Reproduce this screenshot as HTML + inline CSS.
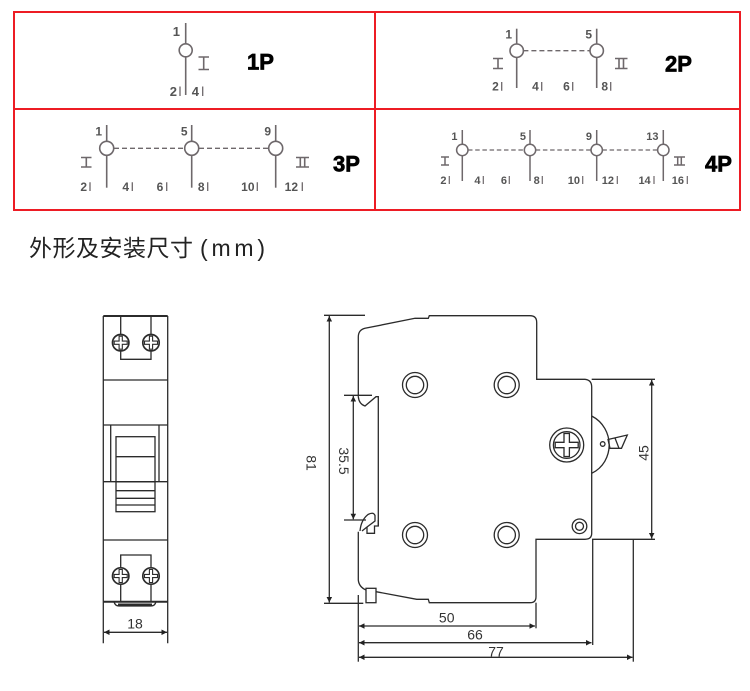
<!DOCTYPE html>
<html><head><meta charset="utf-8"><style>
html,body{margin:0;padding:0;background:#fff;}
svg{display:block;}
.lb{font-family:"Liberation Sans",sans-serif;font-weight:bold;fill:#555;}
.big{font-family:"Liberation Sans",sans-serif;font-weight:bold;fill:#000;font-size:22px;stroke:#000;stroke-width:0.7;}
.dm{font-family:"Liberation Sans",sans-serif;fill:#333;font-size:14px;}
</style></head><body>
<svg width="750" height="691" viewBox="0 0 750 691" xmlns="http://www.w3.org/2000/svg">
<defs>
<marker id="ar" viewBox="0 0 10 10" refX="10" refY="5" markerWidth="7" markerHeight="5.5" markerUnits="userSpaceOnUse" orient="auto-start-reverse"><path d="M0,0 L10,5 L0,10 z" fill="#222"/></marker>
</defs>
<!-- table -->
<g fill="none" stroke="#ed1c24" stroke-width="2">
<rect x="14" y="12" width="726" height="198"/>
<line x1="14" y1="109" x2="740" y2="109"/>
<line x1="375" y1="12" x2="375" y2="210"/>
</g>

<!-- 1P -->
<g stroke="#6e686b" stroke-width="1.6" fill="#fff">
<line x1="185.7" y1="23" x2="185.7" y2="43.8"/>
<line x1="185.7" y1="56.8" x2="185.7" y2="95"/>
<circle cx="185.7" cy="50.3" r="6.5"/>
<path d="M198.5,57 H209 M203.7,57 V69.5 M198.5,69.5 H209" fill="none"/>
<path d="M180,86.5 V96 M202.7,86.5 V96" stroke-width="1.3"/>
</g>
<g class="lb" font-size="13">
<text x="180" y="36" text-anchor="end">1</text>
<text x="177" y="96" text-anchor="end">2</text>
<text x="199" y="96" text-anchor="end">4</text>
</g>
<text class="big" x="247" y="69.7">1P</text>

<!-- 2P -->
<g stroke="#6e686b" stroke-width="1.6" fill="#fff">
<line x1="516.7" y1="28.7" x2="516.7" y2="88"/>
<line x1="596.7" y1="28.7" x2="596.7" y2="88"/>
<line x1="523.4" y1="50.7" x2="590" y2="50.7" stroke-dasharray="5 3" stroke-width="1.4"/>
<circle cx="516.7" cy="50.7" r="6.7"/>
<circle cx="596.7" cy="50.7" r="6.7"/>
<path d="M493,58.5 H503 M498,58.5 V68.5 M493,68.5 H503" fill="none"/>
<path d="M615,58.5 H627.5 M619,58.5 V68.5 M623.5,58.5 V68.5 M615,68.5 H627.5" fill="none"/>
<path d="M501.7,82 V90.7 M541.7,82 V90.7 M572.7,82 V90.7 M610.7,82 V90.7" stroke-width="1.3"/>
</g>
<g class="lb" font-size="12">
<text x="512" y="38.7" text-anchor="end">1</text>
<text x="592" y="38.7" text-anchor="end">5</text>
<text x="498.8" y="90.7" text-anchor="end">2</text>
<text x="538.8" y="90.7" text-anchor="end">4</text>
<text x="569.8" y="90.7" text-anchor="end">6</text>
<text x="608" y="90.7" text-anchor="end">8</text>
</g>
<text class="big" x="665" y="71.3">2P</text>

<!-- 3P -->
<g stroke="#6e686b" stroke-width="1.6" fill="#fff">
<line x1="106.7" y1="125" x2="106.7" y2="187.7"/>
<line x1="191.7" y1="125" x2="191.7" y2="187.7"/>
<line x1="275.7" y1="125" x2="275.7" y2="187.7"/>
<path d="M114,148.3 H184.4 M199,148.3 H268.4" stroke-dasharray="5 3" stroke-width="1.4" fill="none"/>
<circle cx="106.7" cy="148.3" r="7"/>
<circle cx="191.7" cy="148.3" r="7"/>
<circle cx="275.7" cy="148.3" r="7"/>
<path d="M81,157.5 H91.5 M86.3,157.5 V167 M81,167 H91.5" fill="none"/>
<path d="M296,157.5 H309 M300.3,157.5 V167 M304.7,157.5 V167 M296,167 H309" fill="none"/>
<path d="M90,182.3 V191 M132.3,182.3 V191 M166.7,182.3 V191 M207.7,182.3 V191 M257.3,182.3 V191 M302.3,182.3 V191" stroke-width="1.3"/>
</g>
<g class="lb" font-size="12">
<text x="102" y="135.7" text-anchor="end">1</text>
<text x="187.5" y="135.7" text-anchor="end">5</text>
<text x="271" y="135.7" text-anchor="end">9</text>
<text x="87" y="191" text-anchor="end">2</text>
<text x="129" y="191" text-anchor="end">4</text>
<text x="163.3" y="191" text-anchor="end">6</text>
<text x="204.5" y="191" text-anchor="end">8</text>
<text x="254.5" y="191" text-anchor="end">10</text>
<text x="298" y="191" text-anchor="end">12</text>
</g>
<text class="big" x="333" y="171.7">3P</text>

<!-- 4P -->
<g stroke="#6e686b" stroke-width="1.5" fill="#fff">
<line x1="462.3" y1="130" x2="462.3" y2="181"/>
<line x1="530" y1="130" x2="530" y2="181"/>
<line x1="596.7" y1="130" x2="596.7" y2="181"/>
<line x1="663.3" y1="130" x2="663.3" y2="181"/>
<path d="M468,150 H524.3 M535.7,150 H591 M602.4,150 H657.6" stroke-dasharray="4.5 2.7" stroke-width="1.3" fill="none"/>
<circle cx="462.3" cy="150" r="5.7"/>
<circle cx="530" cy="150" r="5.7"/>
<circle cx="596.7" cy="150" r="5.7"/>
<circle cx="663.3" cy="150" r="5.7"/>
<path d="M441,157 H449 M445,157 V165 M441,165 H449" fill="none"/>
<path d="M674,157 H685 M677.7,157 V165 M681.3,157 V165 M674,165 H685" fill="none"/>
<path d="M449.3,176 V184 M483.3,176 V184 M509.3,176 V184 M542.3,176 V184 M582.7,176 V184 M617.3,176 V184 M654,176 V184 M687.3,176 V184" stroke-width="1.2"/>
</g>
<g class="lb" font-size="11">
<text x="457.5" y="140" text-anchor="end">1</text>
<text x="526" y="140" text-anchor="end">5</text>
<text x="592" y="140" text-anchor="end">9</text>
<text x="658.5" y="140" text-anchor="end">13</text>
<text x="446.5" y="184" text-anchor="end">2</text>
<text x="480.5" y="184" text-anchor="end">4</text>
<text x="507" y="184" text-anchor="end">6</text>
<text x="539.8" y="184" text-anchor="end">8</text>
<text x="580" y="184" text-anchor="end">10</text>
<text x="614" y="184" text-anchor="end">12</text>
<text x="650.7" y="184" text-anchor="end">14</text>
<text x="684" y="184" text-anchor="end">16</text>
</g>
<text class="big" x="705" y="171.7">4P</text>

<!-- title -->
<text x="29" y="256" font-size="23" textLength="164" lengthAdjust="spacing" fill="#222" style="font-family:'Liberation Sans','Noto Sans CJK SC',sans-serif;">外形及安装尺寸</text>
<text x="200" y="256" font-size="23" textLength="65" lengthAdjust="spacing" fill="#222" style="font-family:'Liberation Sans','Noto Sans CJK SC',sans-serif;">(mm)</text>

<!-- front view -->
<g stroke="#2b2b2b" stroke-width="1.3" fill="none">
<line x1="103.3" y1="316" x2="103.3" y2="643.3"/>
<line x1="167.7" y1="316" x2="167.7" y2="643.3"/>
<line x1="103.3" y1="316" x2="167.7" y2="316" stroke-width="2"/>
<path d="M120.7,316 V334.5 M151,316 V334.5"/>
<path d="M120.7,351 V359.3 H151 V351"/>
<line x1="103.3" y1="380" x2="167.7" y2="380"/>
<line x1="103.3" y1="425" x2="167.7" y2="425"/>
<path d="M110.7,425 V481.7 M159,425 V481.7"/>
<rect x="116" y="436.7" width="39" height="45"/>
<line x1="116" y1="456.7" x2="155" y2="456.7"/>
<line x1="103.3" y1="481.7" x2="167.7" y2="481.7"/>
<rect x="116" y="481.7" width="39" height="30"/>
<path d="M116,490.7 H155 M116,498.3 H155 M116,505 H155"/>
<line x1="103.3" y1="540" x2="167.7" y2="540"/>
<path d="M120.7,567.8 V555 H151 V567.8"/>
<path d="M120.7,584.2 V601.7 M151,584.2 V601.7"/>
<line x1="103.3" y1="601.7" x2="167.7" y2="601.7" stroke-width="2"/>
<path d="M114,601.7 Q115,606 119,606 H151 Q155,606 156,601.7"/>
<line x1="118" y1="604.5" x2="152" y2="604.5" stroke-width="2"/>
<g stroke-width="1.7">
<g transform="translate(120.7,342.7)"><circle r="8.2"/><path d="M-1.6,-6.5 H1.6 V-1.6 H6.5 V1.6 H1.6 V6.5 H-1.6 V1.6 H-6.5 V-1.6 H-1.6 Z" stroke-width="1.1"/></g>
<g transform="translate(151,342.7)"><circle r="8.2"/><path d="M-1.6,-6.5 H1.6 V-1.6 H6.5 V1.6 H1.6 V6.5 H-1.6 V1.6 H-6.5 V-1.6 H-1.6 Z" stroke-width="1.1"/></g>
<g transform="translate(120.7,576)"><circle r="8.2"/><path d="M-1.6,-6.5 H1.6 V-1.6 H6.5 V1.6 H1.6 V6.5 H-1.6 V1.6 H-6.5 V-1.6 H-1.6 Z" stroke-width="1.1"/></g>
<g transform="translate(151,576)"><circle r="8.2"/><path d="M-1.6,-6.5 H1.6 V-1.6 H6.5 V1.6 H1.6 V6.5 H-1.6 V1.6 H-6.5 V-1.6 H-1.6 Z" stroke-width="1.1"/></g>
</g>
<line x1="104" y1="632.3" x2="167" y2="632.3" marker-start="url(#ar)" marker-end="url(#ar)"/>
</g>
<text class="dm" x="135" y="628.3" text-anchor="middle">18</text>

<!-- side view -->
<g stroke="#2b2b2b" stroke-width="1.3" fill="none">
<path d="M358.3,396.7 V337 Q358.3,330 365,328.3 L415,318.3 H428.3 L429.3,315.7 H530 Q536.7,315.7 536.7,322.5 V379.3 H585 Q591.7,380 591.7,387 V533.3 Q591.7,539.3 585,539.3 H536 V596.7 Q536,602.7 530,602.7 H429.3 L428.3,599.3 H416.7 L376,591.7"/>
<path d="M358.3,396.7 Q359,404 365,406 L376,396.7 H378.3 V526"/>
<path d="M378.3,520 V526 H374.5 V533.3 H367 V527"/>
<path d="M360,531 Q361,520 368,514.5 Q373.5,511.5 375,515.5 V521 L367,527 L362,531"/>
<path d="M358.3,531.7 V580 Q359,587 366,590"/>
<rect x="366" y="588.3" width="10" height="14.4"/>
<circle cx="415" cy="385" r="12.5"/><circle cx="415" cy="385" r="8.7"/>
<circle cx="506.7" cy="385" r="12.5"/><circle cx="506.7" cy="385" r="8.7"/>
<circle cx="415" cy="535" r="12.5"/><circle cx="415" cy="535" r="8.7"/>
<circle cx="506.7" cy="535" r="12.5"/><circle cx="506.7" cy="535" r="8.7"/>
<circle cx="579.5" cy="526.3" r="7.3"/><circle cx="579.5" cy="526.3" r="4"/>
<g transform="translate(566.7,445)"><circle r="17"/><circle r="13.3"/><path d="M-2.7,-11.5 H2.7 V-2.7 H11.5 V2.7 H2.7 V11.5 H-2.7 V2.7 H-11.5 V-2.7 H-2.7 Z"/></g>
<path d="M591.7,416 C615,428 615,462 591.7,473.3"/>
<circle cx="602.7" cy="444" r="2.3"/>
<path d="M608,439.5 L627.3,435 L621.5,448.3 H610 Z M615,438 L619,448.3"/>
<line x1="324" y1="315.3" x2="365" y2="315.3"/>
<line x1="324" y1="603.3" x2="363.3" y2="603.3"/>
<line x1="344" y1="395.3" x2="372" y2="395.3"/>
<line x1="344" y1="520" x2="366" y2="520"/>
<line x1="591.7" y1="379.3" x2="655" y2="379.3"/>
<line x1="592" y1="539.3" x2="655" y2="539.3"/>
<line x1="358.3" y1="595" x2="358.3" y2="661.7"/>
<line x1="536" y1="602.7" x2="536" y2="628.3"/>
<line x1="592.7" y1="539.3" x2="592.7" y2="645"/>
<line x1="633.3" y1="539.3" x2="633.3" y2="661.7"/>
<line x1="329.3" y1="316" x2="329.3" y2="602.5" marker-start="url(#ar)" marker-end="url(#ar)"/>
<line x1="353.3" y1="396" x2="353.3" y2="519.3" marker-start="url(#ar)" marker-end="url(#ar)"/>
<line x1="651.7" y1="380" x2="651.7" y2="538.5" marker-start="url(#ar)" marker-end="url(#ar)"/>
<line x1="359" y1="626" x2="535" y2="626" marker-start="url(#ar)" marker-end="url(#ar)"/>
<line x1="359" y1="642.7" x2="591.5" y2="642.7" marker-start="url(#ar)" marker-end="url(#ar)"/>
<line x1="359" y1="657.3" x2="632.5" y2="657.3" marker-start="url(#ar)" marker-end="url(#ar)"/>
</g>
<text class="dm" x="446.7" y="622.7" text-anchor="middle">50</text>
<text class="dm" x="475" y="639.3" text-anchor="middle">66</text>
<text class="dm" x="496" y="656.5" text-anchor="middle">77</text>
<text class="dm" x="311.7" y="463" dy="5" text-anchor="middle" transform="rotate(90 311.7 463)">81</text>
<text class="dm" x="344" y="461" dy="5" text-anchor="middle" transform="rotate(90 344 461)">35.5</text>
<text class="dm" x="643.3" y="453" dy="5" text-anchor="middle" transform="rotate(-90 643.3 453)">45</text>
</svg>
</body></html>
